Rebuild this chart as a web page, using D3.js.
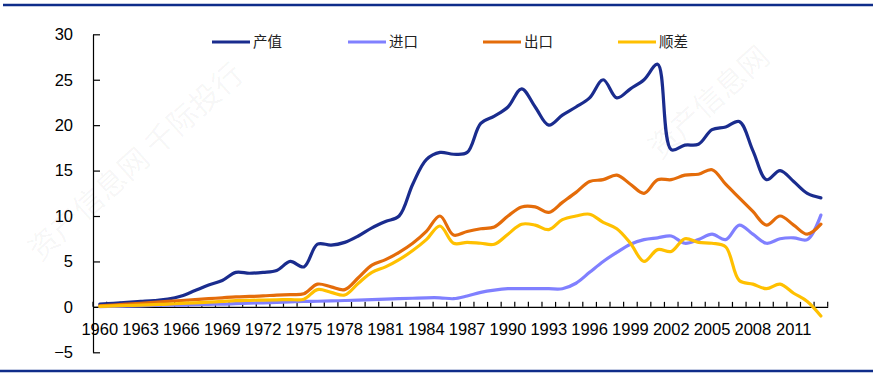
<!DOCTYPE html>
<html><head><meta charset="utf-8">
<script src="https://cdn.jsdelivr.net/npm/d3@7"></script>
<style>
html,body{margin:0;padding:0;background:#fff;}
svg{display:block;}
</style></head>
<body>
<svg id="c" width="873" height="376"></svg>
<script>
const years = d3.range(1960, 2014);
const seriesNames = ["产值", "进口", "出口", "顺差"];
const seriesColors = ["#1a2c8e", "#8080ff", "#e46c0a", "#ffc000"];
const output = [0.3,0.4,0.5,0.6,0.7,0.85,1.2,1.8,2.4,2.9,3.8,3.7,3.8,4.0,5.0,4.4,6.9,6.8,7.1,7.8,8.7,9.4,10.0,13.5,16.2,17.0,16.8,17.0,20.2,21.0,22.0,24.0,22.0,20.0,21.1,22.0,23.0,25.0,23.0,24.0,25.0,26.7,17.3,17.8,17.9,19.5,19.8,20.4,17.2,14.0,15.0,13.8,12.5,12.0];
const imports = [0.03,0.06,0.09,0.12,0.15,0.18,0.2,0.25,0.28,0.3,0.35,0.4,0.45,0.5,0.55,0.6,0.62,0.65,0.7,0.75,0.8,0.85,0.9,0.95,1.0,1.0,0.9,1.2,1.6,1.85,2.0,2.0,2.0,2.0,2.0,2.6,3.8,5.0,6.0,6.9,7.4,7.6,7.8,7.0,7.4,8.0,7.4,9.0,8.0,7.0,7.5,7.6,7.4,10.1];
const exportsV = [0.1,0.2,0.3,0.4,0.5,0.6,0.7,0.8,0.9,1.0,1.1,1.15,1.2,1.3,1.35,1.45,2.5,2.2,1.9,3.2,4.6,5.2,6.0,7.0,8.3,10.0,7.9,8.3,8.6,8.8,10.0,11.0,11.0,10.4,11.5,12.6,13.8,14.0,14.5,13.5,12.5,14.0,14.0,14.5,14.6,15.1,13.5,12.0,10.5,9.0,10.0,9.0,8.0,9.1];
const surplus = [0.05,0.1,0.15,0.2,0.25,0.3,0.38,0.45,0.52,0.6,0.68,0.72,0.75,0.78,0.8,0.85,1.9,1.6,1.3,2.6,3.8,4.4,5.2,6.2,7.4,8.9,7.0,7.1,7.0,6.9,8.0,9.1,9.0,8.5,9.6,10.0,10.2,9.3,8.6,7.0,5.0,6.3,6.1,7.5,7.1,7.0,6.6,2.9,2.5,2.0,2.5,1.5,0.6,-1.0];
const yTicks = [-5, 0, 5, 10, 15, 20, 25, 30];
const xLabelYears = d3.range(1960, 2012, 3);

const svg = d3.select("#c");
const numFont = "'Liberation Sans', Arial, sans-serif";
const cjkFont = "'Noto Sans CJK SC', 'Noto Sans', sans-serif";

// header / footer rules
svg.append("line").attr("x1", 3).attr("x2", 873).attr("y1", 5).attr("y2", 5)
  .attr("stroke", "#0f2d8a").attr("stroke-width", 2.5);
svg.append("line").attr("x1", 0).attr("x2", 873).attr("y1", 371).attr("y2", 371)
  .attr("stroke", "#0f2d8a").attr("stroke-width", 2.5);

// watermark (faint)
const wm = svg.append("g").attr("fill", "#000").attr("fill-opacity", 0.045)
  .attr("font-family", cjkFont).attr("font-size", 30);
wm.append("text").attr("transform", "translate(40,262) rotate(-42)").text("资产信息网 千际投行");
wm.append("text").attr("transform", "translate(660,160) rotate(-42)").text("资产信息网");

const x = d3.scaleBand().domain(years).range([93, 827.7]).padding(0);
const y = d3.scaleLinear().domain([-5, 30]).range([352.3, 34.3]);
const cx = yr => x(yr) + x.bandwidth() / 2;

// y axis
const yAxis = d3.axisLeft(y).tickValues(yTicks).tickSize(-7).tickSizeOuter(0).tickPadding(20);
const gy = svg.append("g").attr("transform", "translate(93,0)").call(yAxis);
gy.select(".domain").attr("stroke", "#000").attr("stroke-width", 1.2);
gy.selectAll(".tick line").attr("stroke", "#000").attr("stroke-width", 1.2);
gy.selectAll(".tick text").attr("font-family", numFont).attr("font-size", 16.5).attr("fill", "#000");

// x axis at y=0
const xAxis = d3.axisBottom(x).tickValues(xLabelYears).tickSize(0).tickPadding(16);
const gx = svg.append("g").attr("transform", `translate(0,${y(0)})`).call(xAxis);
gx.select(".domain").attr("stroke", "#000").attr("stroke-width", 1.2);
gx.selectAll(".tick text").attr("font-family", numFont).attr("font-size", 16.5).attr("fill", "#000");
// year tick marks at band edges, pointing up
const edges = years.map(yr => x(yr)).concat([x(years[years.length - 1]) + x.bandwidth()]);
gx.selectAll("line.yt").data(edges).join("line").attr("class", "yt")
  .attr("x1", d => d).attr("x2", d => d).attr("y1", 0).attr("y2", -5)
  .attr("stroke", "#000").attr("stroke-width", 1.2);

// lines
const allSeries = [output, imports, exportsV, surplus];
const line = d3.line().x((d, i) => cx(years[i])).y(d => y(d)).curve(d3.curveCatmullRom.alpha(0.5));
allSeries.forEach((s, k) => {
  svg.append("path").datum(s).attr("d", line).attr("fill", "none")
    .attr("stroke", seriesColors[k]).attr("stroke-width", 3.2)
    .attr("stroke-linejoin", "round").attr("stroke-linecap", "round");
});

// legend
const legendX = [212, 348, 483, 618];
seriesNames.forEach((n, k) => {
  const g = svg.append("g").attr("transform", `translate(${legendX[k]},42)`);
  g.append("line").attr("x1", 0).attr("x2", 38).attr("y1", 0).attr("y2", 0)
    .attr("stroke", seriesColors[k]).attr("stroke-width", 3.2);
  g.append("text").attr("x", 41).attr("y", 0).attr("dy", "0.36em")
    .attr("font-family", cjkFont).attr("font-size", 14.5).attr("fill", "#222").text(n);
});
</script>
</body></html>
